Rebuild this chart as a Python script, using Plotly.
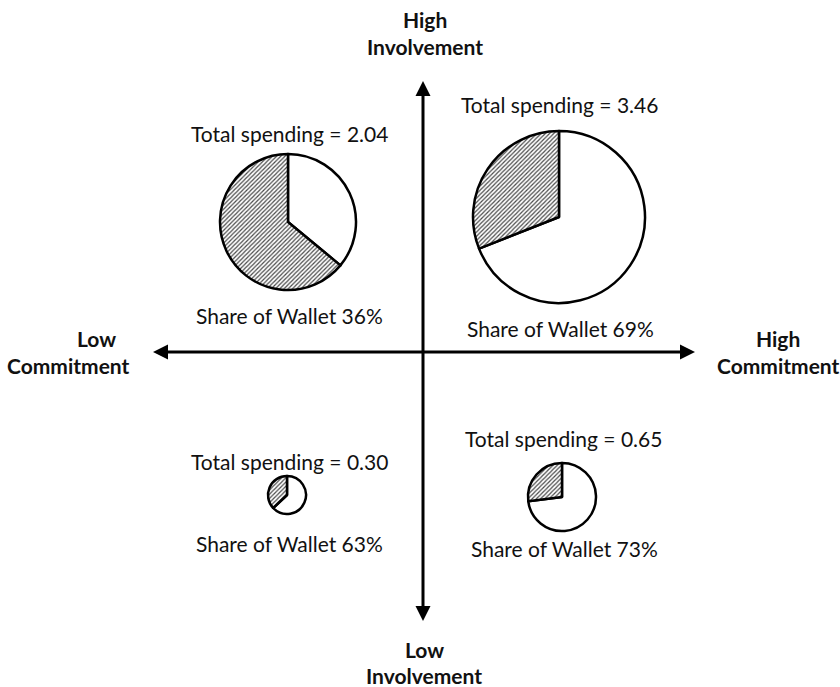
import plotly.graph_objects as go

# Quadrant data: spending and share of wallet per segment
segments = ["High Inv / Low Com", "High Inv / High Com", "Low Inv / Low Com", "Low Inv / High Com"]
total_spending = [2.04, 3.46, 0.30, 0.65]
share_of_wallet = [36, 69, 63, 73]

# Pie placement in pixels (centre x, centre y, radius)
pie_cx = [288, 559, 287, 562]
pie_cy = [222, 217, 495, 497]
pie_r = [68, 86, 19, 34]

# Label positions in pixels (above / below each pie)
top_label_xy = [(289, 133), (559, 104), (289, 461), (563, 438)]
bottom_label_xy = [(289, 315), (560, 328), (289, 543), (564, 548)]

W, H = 840, 687
FONT = "Lato"
TXT = 21

fig = go.Figure()

for i, seg in enumerate(segments):
    cx, cy, r = pie_cx[i], pie_cy[i], pie_r[i]
    fig.add_trace(go.Pie(
        name=seg,
        labels=["Share of wallet", "Other"],
        values=[share_of_wallet[i], 100 - share_of_wallet[i]],
        sort=False,
        direction="clockwise",
        rotation=0,
        textinfo="none",
        showlegend=False,
        domain=dict(x=[(cx - r) / W, (cx + r) / W],
                    y=[1 - (cy + r) / H, 1 - (cy - r) / H]),
        marker=dict(
            colors=["white", "white"],
            line=dict(color="black", width=2.5),
            pattern=dict(shape=["", "/"], fgcolor="#4a4a4a", bgcolor="white",
                         size=3, solidity=0.4),
        ),
    ))
    fig.add_annotation(x=top_label_xy[i][0], y=top_label_xy[i][1],
                       text=f"Total spending = {total_spending[i]:.2f}",
                       showarrow=False, font=dict(size=TXT, color="#111", family=FONT))
    fig.add_annotation(x=bottom_label_xy[i][0], y=bottom_label_xy[i][1],
                       text=f"Share of Wallet {share_of_wallet[i]}%",
                       showarrow=False, font=dict(size=TXT, color="#111", family=FONT))

# Axis arrows
shapes = [
    dict(type="line", x0=160, x1=688, y0=352, y1=352, line=dict(color="black", width=3)),
    dict(type="line", x0=423, x1=423, y0=88, y1=614, line=dict(color="black", width=3)),
    dict(type="path", path="M153,352 L168,344.5 L168,359.5 Z", fillcolor="black", line=dict(width=0)),
    dict(type="path", path="M695,352 L680,344.5 L680,359.5 Z", fillcolor="black", line=dict(width=0)),
    dict(type="path", path="M423,81 L415.5,96 L430.5,96 Z", fillcolor="black", line=dict(width=0)),
    dict(type="path", path="M423,621 L415.5,606 L430.5,606 Z", fillcolor="black", line=dict(width=0)),
]
for s in shapes:
    s.update(xref="x", yref="y", layer="above")

# Axis end labels
axis_labels = [
    ("High", 425, 19), ("Involvement", 425, 46),
    ("Low", 424, 649), ("Involvement", 424, 675),
    ("Low", 96, 338), ("Commitment", 68, 365),
    ("High", 778, 338), ("Commitment", 778, 365),
]
for txt, x, y in axis_labels:
    fig.add_annotation(x=x, y=y, text=f"<b>{txt}</b>", showarrow=False,
                       font=dict(size=TXT, color="#111", family=FONT))

fig.update_layout(
    width=W, height=H,
    margin=dict(l=0, r=0, t=0, b=0),
    paper_bgcolor="white", plot_bgcolor="white",
    shapes=shapes,
    xaxis=dict(range=[0, W], visible=False, fixedrange=True),
    yaxis=dict(range=[H, 0], visible=False, fixedrange=True),
)

fig.write_html("out.html")
